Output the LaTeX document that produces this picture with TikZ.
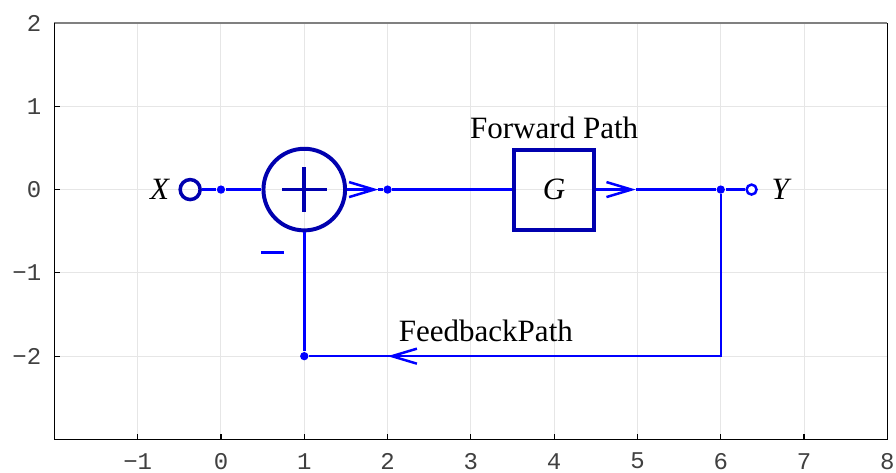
\documentclass[tikz,border=0pt]{standalone}
\usepackage{fontspec}
\setmainfont{Liberation Serif}
\setmonofont{Liberation Mono}
\usetikzlibrary{arrows.meta, positioning, calc}
\definecolor{sigblue}{RGB}{0,0,255}
\definecolor{blockblue}{RGB}{0,0,175}
\definecolor{gridgray}{RGB}{230,230,230}

\begin{document}
\begin{tikzpicture}[
    flow/.style={draw=sigblue, line width=0.85pt},
    chevron/.style={flow, -{Straight Barb[length=0.3cm, width=0.18cm, line width=0.85pt]}},
    junction/.style={circle, fill=sigblue, inner sep=0pt, minimum size=0.1cm},
    block/.style={draw=blockblue, line width=1.35pt, minimum size=0.96cm, inner sep=0pt},
    txt/.style={inner sep=0pt, font=\fontsize{10.6}{12}\selectfont},
    ticklabel/.style={inner sep=0pt, text=black!75, font=\ttfamily\fontsize{8.2}{9}\selectfont}
]
            \useasboundingbox (-2.653,-3.402) rectangle (8.104,2.276);

            % --- Grille et axes ---
            \foreach \x in {-1,...,7}
                \draw[gridgray, line width=0.35pt] (\x,-3) -- (\x,2);
            \foreach \y in {-2,...,1}
                \draw[gridgray, line width=0.35pt] (-2,\y) -- (8,\y);
            \draw[gray, line width=0.7pt] (-2,2) -- (8,2);
            \draw[black, line width=0.5pt] (-2,2) -- (-2,-3) -- (8,-3) -- (8,2);
            \foreach \x in {-1,...,7}
                \draw[black, line width=0.4pt] (\x,-3) -- (\x,-2.93);
            \foreach \y in {-2,...,1}
                \draw[black, line width=0.4pt] (-2,\y) -- (-1.93,\y);
            \foreach \x/\t in {-1/−1,0/0,1/1,2/2,3/3,4/4,5/5,6/6,7/7,8/8}
                \node[ticklabel] (xt\x) at (\x,-3.26) {\t};
            \foreach \y/\t in {-2/−2,-1/−1,0/0,1/1,2/2}
                \node[ticklabel, anchor=east] (yt\y) at (-2.15,\y) {\t};

            % --- Blocs ---
            \node[circle, draw=blockblue, line width=1.2pt, inner sep=0pt, minimum size=0.24cm] (in) at (-0.37,0) {};
            \node[txt] (xlab) at (-0.73,0) {\textit{X}};
            \node[junction] (n0) at (0,0) {};
            \node[circle, draw=blockblue, line width=1.35pt, inner sep=0pt, minimum size=0.98cm] (sum) at (1,0) {};
            \draw[blockblue, line width=1.3pt] ([xshift=-0.27cm]sum.center) -- ([xshift=0.27cm]sum.center);
            \draw[blockblue, line width=1.3pt] ([yshift=0.27cm]sum.center) -- ([yshift=-0.27cm]sum.center);
            \node[inner sep=0pt] (minus) at (0.62,-0.75) {\color{sigblue}\rule{0.27cm}{1pt}};
            \node[junction] (n2) at (2,0) {};
            \node[block] (g) at (4,0) {\fontsize{10.6}{12}\selectfont\textit{G}};
            \node[txt] (fwd) at (4,0.74) {Forward Path};
            \node[junction] (n6) at (6,0) {};
            \node[circle, draw=sigblue, fill=white, line width=0.85pt, inner sep=0pt, minimum size=0.12cm] (out) at (6.37,0) {};
            \node[txt] (ylab) at (6.73,0) {\textit{Y}};
            \node[junction] (n1) at (1,-2) {};
            \node[txt] (fb) at (3.18,-1.70) {FeedbackPath};

            % Pointes des fleches
            \coordinate (tipA) at (1.89,0);
            \coordinate (tipB) at (4.98,0);
            \coordinate (tipC) at (2.0,-2);
            \coordinate (corner) at (6,-2);

            % --- Chemin direct ---
            \draw[flow] (in) -- (n0) -- (sum);
            \draw[chevron] (sum) -- (tipA);
            \draw[flow] (tipA) -- (n2) -- (g);
            \draw[chevron] (g) -- (tipB);
            \draw[flow] (tipB) -- (n6) -- (out);

            % --- Retour ---
            \draw[flow] (n6) -- (corner) -- (n1) -- (sum);
            \draw[chevron] (corner) -- (tipC);
\end{tikzpicture}
\end{document}
